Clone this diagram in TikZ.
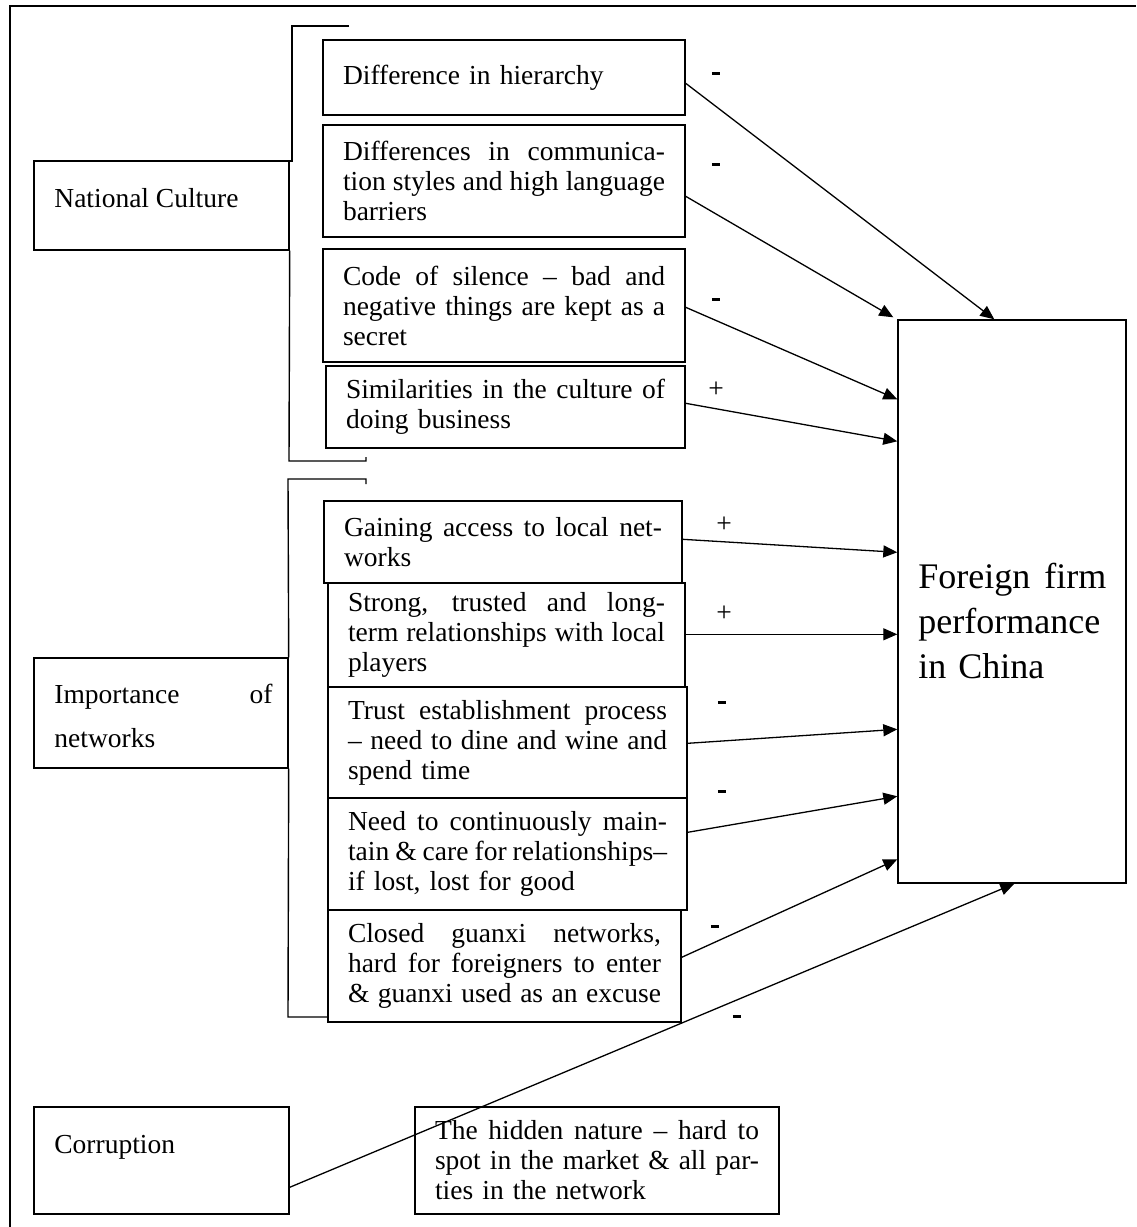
\documentclass[tikz,border=0pt]{standalone}
\usepackage{fontspec}
\setmainfont{Liberation Serif}
\usetikzlibrary{arrows.meta}
\newcommand\jl[1]{{\spaceskip=0.25em plus 4em minus 0.08em\relax\makebox[\hsize][s]{#1}}}
\newcommand\mkbox[6]{%
 \pgfmathsetmacro\bxw{(#4-#2)*0.5}%
 \pgfmathsetmacro\bxh{(#5-#3)*0.5}%
 \pgfmathsetmacro\bxt{(#4-#2-40)*0.5}%
 \node[bx,minimum width=\bxw pt,minimum height=\bxh pt,text width=\bxt pt] (#1) at ({(#2+#4)/2},{(#3+#5)/2}) {#6};}
\newcommand\mdash{\rule[2.4pt]{4.2pt}{1.6pt}}
\begin{document}
\begin{tikzpicture}[x=0.5pt,y=-0.5pt,
  tx/.style={font=\fontsize{13.75pt}{15pt}\selectfont},
  bx/.style={draw,line width=0.7pt,fill=white,inner sep=0pt,align=left,tx},
  lab/.style={tx,anchor=base west,inner sep=0pt,align=left},
  ar/.style={-{Triangle[length=7pt,width=6pt]},line width=0.65pt},
  ln/.style={line width=0.7pt},
  sg/.style={tx,inner sep=0pt}]
\useasboundingbox (0,0) rectangle (1136,1227);
% frame
\draw[line width=1pt] (10,1227) -- (10,6) -- (1136,6);
% left group boxes
\mkbox{nc}{34}{161}{289}{250}{}
\mkbox{imp}{34}{658}{288}{768}{}
\mkbox{corr}{34}{1107}{289}{1214}{}
\node[lab] (nct) at (54,207) {National Culture};
\node[lab,text width=109pt,font=\fontsize{13.75pt}{22pt}\selectfont] (impt) at (54,703) {\jl{Importance of}\\networks};
\node[lab] (corrt) at (54,1153) {Corruption};
% brackets
\draw[ln] (349,26) -- (292,26) -- (292,161) -- (288,161);
\draw[ln] (nc.south east) -- (289,461) -- (366,461) -- (366,457);
\draw[ln] (366,484) -- (366,479) -- (288,479) -- (imp.north east);
\draw[ln] (imp.south east) -- (288,1017) -- (328,1017);
% middle boxes
\mkbox{b1}{323}{40}{685}{115}{Difference in hierarchy}
\mkbox{b2}{323}{125}{685}{237}{\jl{Differences in communica-}\\\jl{tion styles and high language}\\barriers}
\mkbox{b3}{323}{249}{685}{362}{\jl{Code of silence – bad and}\\\jl{negative things are kept as a}\\secret}
\mkbox{b4}{326}{366}{685}{448}{\jl{Similarities in the culture of}\\doing business}
\mkbox{b5}{324}{501}{682}{583}{\jl{Gaining access to local net-}\\works}
\mkbox{b6}{328}{583}{685}{687}{\jl{Strong, trusted and long-}\\\jl{term relationships with local}\\players}
\mkbox{b7}{328}{687}{687}{798}{\jl{Trust establishment process}\\\jl{– need to dine and wine and}\\spend time}
\mkbox{b8}{328}{798}{687}{910}{\jl{Need to continuously main-}\\\jl{tain \& care for relationships–}\\if lost, lost for good}
\mkbox{b9}{328}{910}{681}{1022}{\jl{Closed guanxi networks,}\\\jl{hard for foreigners to enter}\\\jl{\& guanxi used as an excuse}}
\mkbox{b10}{415}{1107}{779}{1214}{\jl{The hidden nature – hard to}\\\jl{spot in the market \& all par-}\\ties in the network}
% outcome box
\mkbox{perf}{898}{320}{1126}{883}{}
\node[lab,text width=94pt,font=\fontsize{18pt}{22.5pt}\selectfont] (perft) at (918,588) {\jl{Foreign firm}\\performance\\in China};
% arrows
\draw[ar] ([yshift=-22pt]b1.north east) -- ([xshift=48.5pt]perf.north west);
\draw[ar] ([yshift=-36pt]b2.north east) -- ([xshift=-2pt,yshift=1pt]perf.north west);
\draw[ar] ([yshift=-29.5pt]b3.north east) -- ([yshift=-40pt]perf.north west);
\draw[ar] ([yshift=-19pt]b4.north east) -- ([yshift=-61pt]perf.north west);
\draw[ar] ([yshift=-19.5pt]b5.north east) -- ([yshift=-116.5pt]perf.north west);
\draw[ar] ([yshift=-26pt]b6.north east) -- ([yshift=-157.5pt]perf.north west);
\draw[ar] ([yshift=-28.5pt]b7.north east) -- ([yshift=-205pt]perf.north west);
\draw[ar] ([yshift=-17.5pt]b8.north east) -- ([yshift=-238.5pt]perf.north west);
\draw[ar] ([yshift=-24pt]b9.north east) -- ([yshift=-270pt]perf.north west);
\draw[ar] ([yshift=-40.5pt]corr.north east) -- ([xshift=58.5pt]perf.south west);
% signs
\node[sg] (s1) at (716,76) {\mdash};
\node[sg] (s2) at (716,167) {\mdash};
\node[sg] (s3) at (716,302) {\mdash};
\node[sg] (s4) at (716,390) {+};
\node[sg] (s5) at (724,525) {+};
\node[sg] (s6) at (724,614) {+};
\node[sg] (s7) at (722,705) {\mdash};
\node[sg] (s8) at (722,794) {\mdash};
\node[sg] (s9) at (715,929) {\mdash};
\node[sg] (s10) at (737,1019) {\mdash};
\end{tikzpicture}
\end{document}
